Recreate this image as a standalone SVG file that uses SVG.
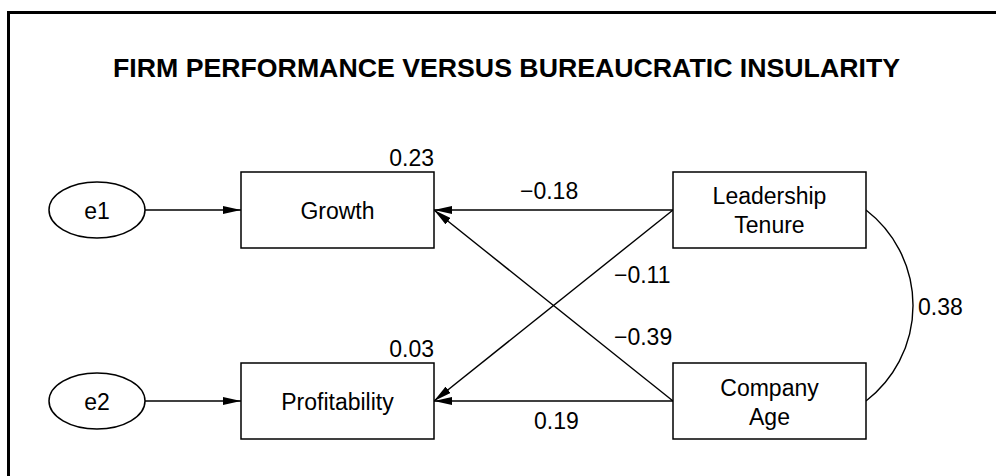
<svg xmlns="http://www.w3.org/2000/svg" width="996" height="476" viewBox="0 0 996 476">
<style>
text{font-family:"Liberation Sans",Arial,sans-serif;font-size:23px;fill:#000}
.t{font-weight:bold;font-size:25.5px}
.box{fill:#fff;stroke:#000;stroke-width:1.5}
.c{text-anchor:middle}
.e{text-anchor:end}
.ln{fill:none;stroke:#000;stroke-width:1.4}
</style>
<defs>
<marker id="ah" viewBox="0 0 18 8" refX="18" refY="4" markerWidth="18" markerHeight="8" markerUnits="userSpaceOnUse" orient="auto">
<path d="M0,0 L18,4 L0,8 Z" fill="#000"/>
</marker>
</defs>
<rect x="0" y="0" width="996" height="476" fill="#fff"/>
<rect x="8.5" y="12.5" width="1000" height="500" fill="none" stroke="#000" stroke-width="3"/>
<text class="t" x="113" y="77" textLength="787" lengthAdjust="spacingAndGlyphs">FIRM PERFORMANCE VERSUS BUREAUCRATIC INSULARITY</text>
<g id="connectors">
<line class="ln" x1="145" y1="210" x2="241" y2="210" marker-end="url(#ah)"/>
<line class="ln" x1="145" y1="401" x2="241" y2="401" marker-end="url(#ah)"/>
<line class="ln" x1="673" y1="210" x2="434" y2="210" marker-end="url(#ah)"/>
<line class="ln" x1="673" y1="210" x2="434" y2="401" marker-end="url(#ah)"/>
<line class="ln" x1="673" y1="401" x2="434" y2="210" marker-end="url(#ah)"/>
<line class="ln" x1="673" y1="401" x2="434" y2="401" marker-end="url(#ah)"/>
<path class="ln" d="M866,210 A120.5,120.5 0 0 1 866,401"/>
<text x="520" y="199">−0.18</text>
<text x="614" y="283">−0.11</text>
<text x="614" y="345">−0.39</text>
<text x="534" y="429">0.19</text>
<text x="918" y="315">0.38</text>
</g>
<g id="e1">
<ellipse class="box" cx="97" cy="210" rx="48" ry="28"/>
<text class="c" x="97" y="219">e1</text>
</g>
<g id="e2">
<ellipse class="box" cx="97" cy="401" rx="48" ry="28"/>
<text class="c" x="97" y="410">e2</text>
</g>
<g id="growth">
<rect class="box" x="241" y="172" width="193" height="76"/>
<text class="c" x="337.5" y="219">Growth</text>
<text class="e" x="434" y="166">0.23</text>
</g>
<g id="profitability">
<rect class="box" x="241" y="363" width="193" height="76"/>
<text class="c" x="337.5" y="410">Profitability</text>
<text class="e" x="434" y="357">0.03</text>
</g>
<g id="leadership">
<rect class="box" x="673" y="172" width="193" height="76"/>
<text class="c" x="769.5" y="204">Leadership</text>
<text class="c" x="769.5" y="233">Tenure</text>
</g>
<g id="company">
<rect class="box" x="673" y="363" width="193" height="76"/>
<text class="c" x="769.5" y="396">Company</text>
<text class="c" x="769.5" y="425">Age</text>
</g>
</svg>
